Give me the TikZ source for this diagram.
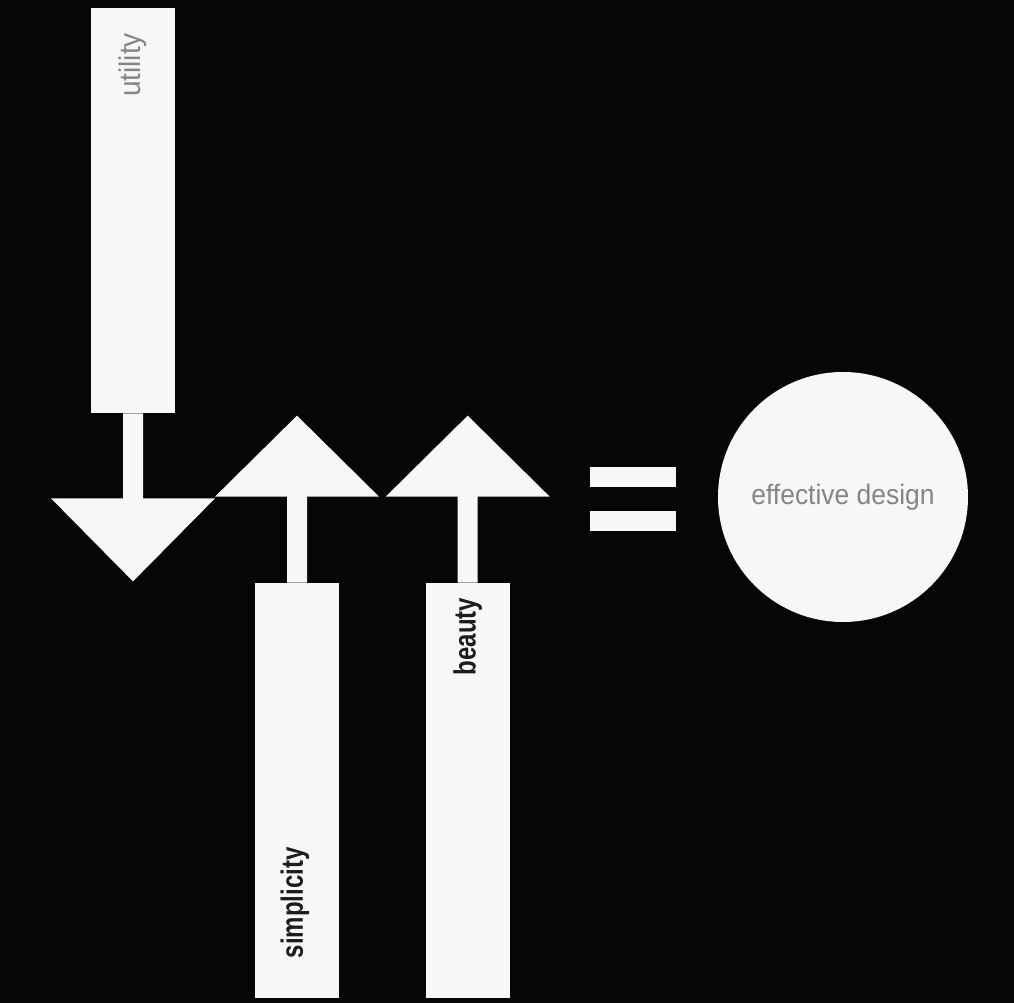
\documentclass[tikz,border=0pt]{standalone}
\usepackage{fontspec}
\usepackage{tikz}
\usetikzlibrary{positioning,calc}
\newfontfamily\condfont[FakeStretch=0.78]{Liberation Sans}
\newfontfamily\lightfont[FakeStretch=0.94]{Liberation Sans}
\definecolor{ink}{HTML}{060606}
\definecolor{paper}{HTML}{F7F7F5}
\definecolor{printgray}{HTML}{858585}
\definecolor{printblack}{HTML}{1C1C1C}

\begin{document}
\begin{tikzpicture}[
      column/.style={fill=paper,inner sep=0pt,minimum width=1.68cm},
      eqbar/.style={fill=paper,inner sep=0pt,minimum width=1.72cm,minimum height=0.41cm},
      boldlabel/.style={rotate=90,inner sep=0pt,text=printblack,font=\condfont\fontsize{17.5}{19}\selectfont\bfseries},
      thinlabel/.style={inner sep=0pt,text=printgray,font=\lightfont\fontsize{17}{19}\selectfont}
    ]
    \useasboundingbox (0,0) rectangle (20.28,-20.06);
    \fill[ink] (0,0) rectangle (20.28,-20.06);

    % the three columns
    \node[column,minimum height=8.1cm] (util) at (2.66,-4.21) {};
    \node[column,minimum height=8.3cm] (simp) at (5.94,-15.81) {};
    \node[column,minimum height=8.3cm,right=1.72cm of simp] (beau) {};

    % stems and heads
    \fill[paper] (util.south) ++(-0.2,0) -- ++(0,-1.7) -- ++(-1.44,0) -- ++(1.64,-1.66)
      -- ++(1.64,1.66) -- ++(-1.44,0) -- ++(0,1.7) -- cycle;
    \fill[paper] (simp.north) ++(-0.2,0) -- ++(0,1.72) -- ++(-1.44,0) -- ++(1.64,1.62)
      -- ++(1.64,-1.62) -- ++(-1.44,0) -- ++(0,-1.72) -- cycle;
    \fill[paper] (beau.north) ++(-0.2,0) -- ++(0,1.72) -- ++(-1.44,0) -- ++(1.64,1.62)
      -- ++(1.64,-1.62) -- ++(-1.44,0) -- ++(0,-1.72) -- cycle;

    % labels
    \node[thinlabel,rotate=90,anchor=east] (utiltext) at ($(util.north)+(0,-0.5)$) {utility};
    \node[boldlabel,anchor=west] (simptext) at ($(simp.south)+(-0.04,0.8)$) {simplicity};
    \node[boldlabel,anchor=east] (beautext) at ($(beau.north)+(0,-0.3)$) {beauty};

    % equals sign and result
    \node[eqbar] (eqtop) at (12.66,-9.54) {};
    \node[eqbar,below=0.46cm of eqtop] (eqbot) {};
    \node[circle,fill=paper,inner sep=0pt,minimum size=5cm] (goal) at (16.86,-9.94) {};
    \node[thinlabel,font=\lightfont\fontsize{16}{18}\selectfont] (goaltext) at (goal) {effective design};
  \end{tikzpicture}
\end{document}
